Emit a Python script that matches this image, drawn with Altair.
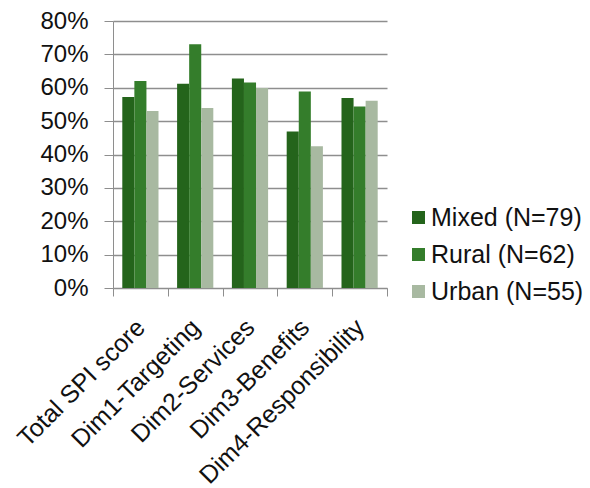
import altair as alt
import pandas as pd

# SPI scores by settlement type
categories = ["Total SPI score", "Dim1-Targeting", "Dim2-Services", "Dim3-Benefits", "Dim4-Responsibility"]
groups = ["Mixed (N=79)", "Rural (N=62)", "Urban (N=55)"]
mixed = [0.572, 0.612, 0.628, 0.469, 0.569]
rural = [0.620, 0.730, 0.616, 0.589, 0.544]
urban = [0.530, 0.539, 0.599, 0.425, 0.561]
colors = ["#24641b", "#347d2b", "#a8b9a1"]
y_ticks = [0, 0.1, 0.2, 0.3, 0.4, 0.5, 0.6, 0.7, 0.8]

rows = []
for series, name in zip([mixed, rural, urban], groups):
    for cat, val in zip(categories, series):
        rows.append({"category": cat, "group": name, "value": val})
df = pd.DataFrame(rows)

FONT = "Liberation Sans"
GRID = "#8e8e8e"

chart = alt.Chart(df).mark_bar().encode(
    x=alt.X(
        "category:N",
        sort=categories,
        scale=alt.Scale(paddingInner=0, paddingOuter=0),
        axis=alt.Axis(
            title=None, labelAngle=-45, labelAlign="right", labelBaseline="middle",
            tickBand="extent", tickSize=8, tickColor=GRID, domainColor=GRID,
            labelFontSize=25, labelFont=FONT, labelColor="#111111", labelPadding=27,
            labelLimit=0, grid=False,
        ),
    ),
    xOffset=alt.XOffset("group:N", sort=groups, scale=alt.Scale(paddingInner=0, paddingOuter=0.77)),
    y=alt.Y(
        "value:Q",
        scale=alt.Scale(domain=[0, 0.8], nice=False),
        axis=alt.Axis(
            title=None, format=".0%", values=y_ticks, tickSize=9, tickColor=GRID,
            domainColor=GRID, gridColor=GRID, gridWidth=1.5, grid=True,
            labelFontSize=24, labelFont=FONT, labelColor="#111111", labelPadding=16,
        ),
    ),
    color=alt.Color(
        "group:N",
        sort=groups,
        scale=alt.Scale(domain=groups, range=colors),
        legend=alt.Legend(
            title=None, orient="none", legendX=293, legendY=184,
            symbolType="square", symbolSize=169, symbolStrokeWidth=0,
            labelFontSize=25, labelFont=FONT, labelColor="#111111",
            labelOffset=0, rowPadding=11, labelLimit=0,
        ),
    ),
).properties(
    width=274,
    height=267,
    autosize=alt.AutoSizeParams(type="none"),
    padding={"left": 113, "top": 21, "right": 203, "bottom": 200},
    background="white",
).configure_view(stroke=None)

chart.save("out.html", embed_options={"renderer": "svg", "actions": False})
